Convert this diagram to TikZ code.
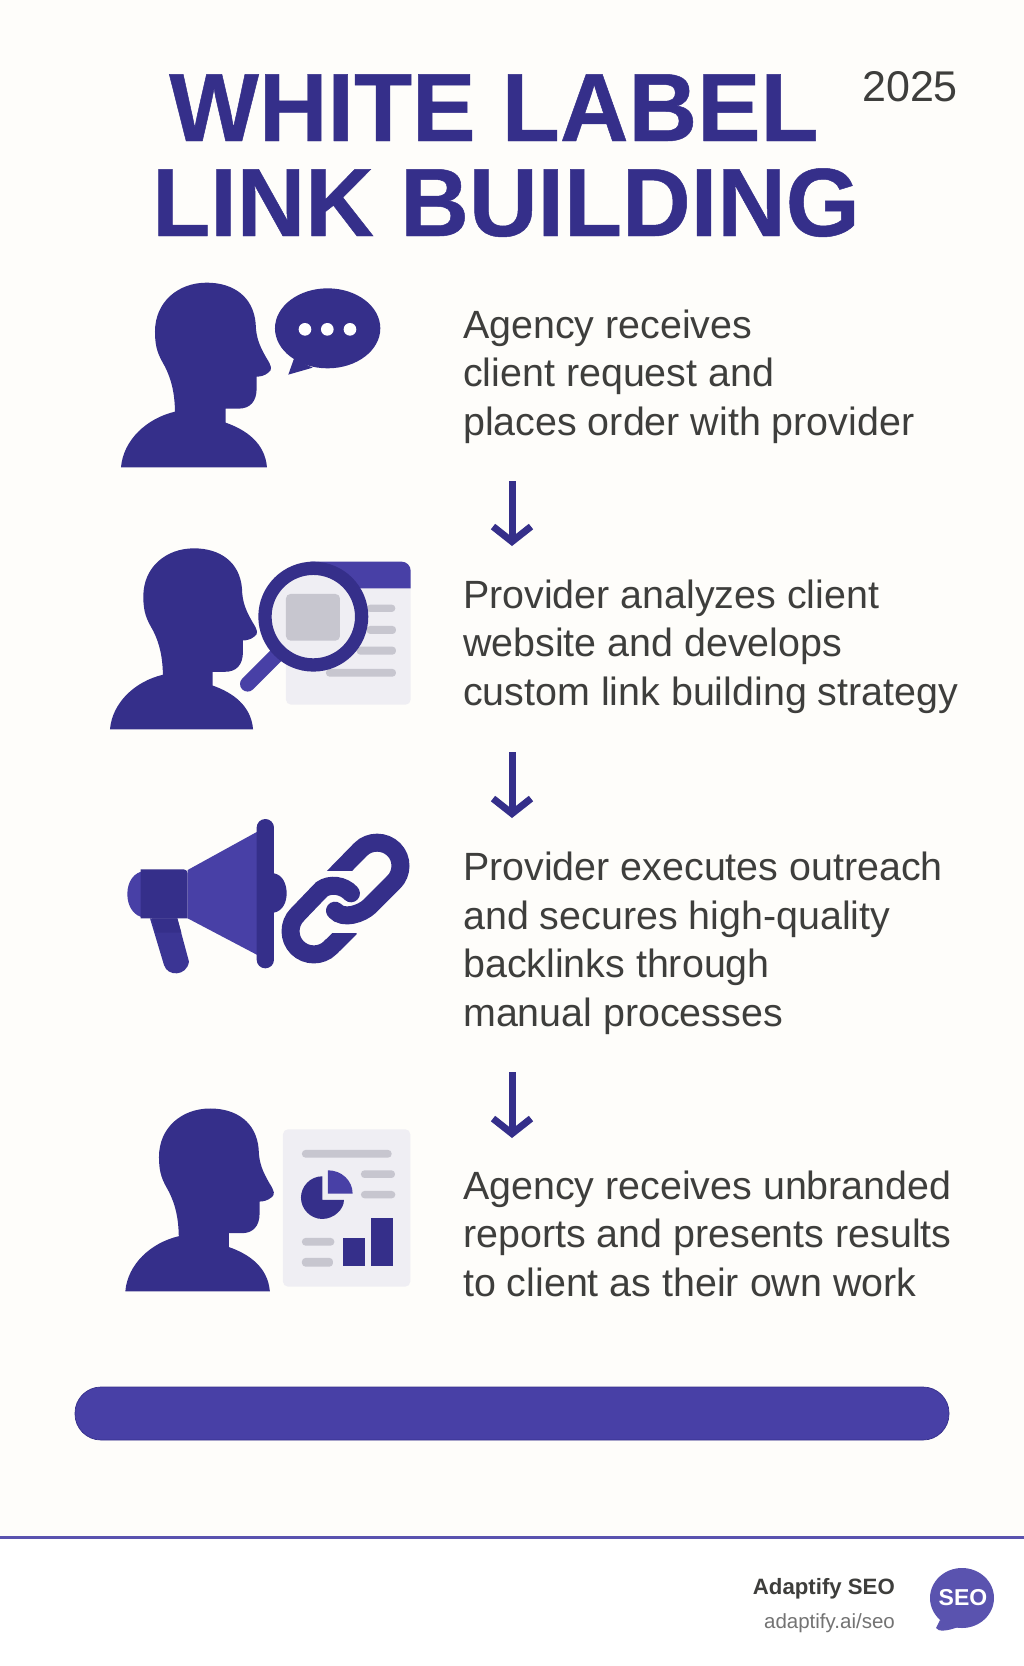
\documentclass[tikz,border=0pt]{standalone}
\usepackage{fontspec}
\setmainfont{Liberation Sans}
\newfontfamily\titlefont[FakeStretch=.98,FakeBold=.5]{Liberation Sans}
\usetikzlibrary{positioning}
\usetikzlibrary{calc}
\usetikzlibrary{arrows.meta}
\definecolor{navy}{HTML}{352F8A}
\definecolor{violet}{HTML}{4840A6}
\definecolor{handleblue}{HTML}{3B3594}
\definecolor{paper}{HTML}{FEFDFA}
\definecolor{sheet}{HTML}{EFEEF3}
\definecolor{bargrey}{HTML}{C7C6CF}
\definecolor{inktext}{HTML}{3E3E3C}
\tikzset{
  titletext/.style={anchor=base west, inner sep=0, text=navy, font=\titlefont\bfseries\fontsize{97}{97}\selectfont},
  steptext/.style={anchor=base west, inner sep=0, align=left, text=inktext, font=\fontsize{39.4}{48.5}\selectfont},
  downarrow/.style={draw=navy, line width=7pt, -{Straight Barb[length=15pt,width=38pt,line width=7pt]}},
  greybar/.style={fill=bargrey, rounded corners=3.5pt},
  linkline/.style={draw=navy, line width=18pt, line cap=round},
}
% the head and shoulders, drawn from its bottom left corner
\newcommand{\personicon}[3]{%
  \begin{scope}[shift={(#1,#2)},scale=#3]
    \fill[navy] (0,0) .. controls (7,-82) and (77,-147) .. (162,-167)
      .. controls (161,-222) and (152,-262) .. (132,-302)
      .. controls (112,-337) and (102,-357) .. (102,-407)
      .. controls (102,-497) and (172,-554) .. (257,-554)
      .. controls (337,-554) and (397,-512) .. (404,-432)
      .. controls (405,-387) and (417,-362) .. (437,-327)
      .. controls (452,-304) and (455,-292) .. (442,-284)
      .. controls (432,-275) and (417,-272) .. (407,-272)
      -- (407,-237)
      .. controls (407,-197) and (387,-176) .. (352,-176)
      -- (314,-176) -- (314,-134)
      .. controls (377,-112) and (432,-72) .. (438,0) -- cycle;
  \end{scope}}
\begin{document}
\begin{tikzpicture}[x=1pt,y=-1pt]
    \useasboundingbox (0,0) rectangle (1024,1666);

    % Background
    \fill[paper] (0,0) rectangle (1024,1537);
    \fill[white] (0,1537) rectangle (1024,1666);
    \draw[violet!90!white, line width=3pt] (0,1537) -- (1024,1537);

    % Title
    \node[titletext] (title1) at (169,141) {WHITE LABEL};
    \node[titletext] (title2) at (152,236) {LINK BUILDING};
    \node[anchor=base west, inner sep=0, text=inktext, font=\fontsize{43}{43}\selectfont] (year) at (862,101) {2025};

    % Steps
    \node[steptext] (step1) at (463,435) {Agency receives\\client request and\\places order with provider};
    \node[steptext] (step2) at (463,705) {Provider analyzes client\\website and develops\\custom link building strategy};
    \node[steptext] (step3) at (463,1026) {Provider executes outreach\\and secures high-quality\\backlinks through\\manual processes};
    \node[steptext] (step4) at (463,1296) {Agency receives unbranded\\reports and presents results\\to client as their own work};

    % Arrows
    \coordinate (a1) at (512,481);
    \coordinate (b1) at (512,546);
    \coordinate (a2) at (512,752);
    \coordinate (b2) at (512,818);
    \coordinate (a3) at (512,1072);
    \coordinate (b3) at (512,1138);
    \draw[downarrow] (a1) -- (b1);
    \draw[downarrow] (a2) -- (b2);
    \draw[downarrow] (a3) -- (b3);

    % Icons of steps 1 and 2
    \begin{scope}[shift={(90,260)},scale=.3333]
      \personicon{93}{622}{1}
      \fill[navy] (713,205) ellipse [x radius=158, y radius=120];
      \fill[navy] (612,296) -- (595,344) -- (668,323) -- cycle;
      \fill[white] (645,208) circle [radius=19];
      \fill[white] (712,208) circle [radius=19];
      \fill[white] (780,208) circle [radius=19];

      \personicon{60}{1408}{.98}
      \fill[sheet, rounded corners=5pt] (588,960) rectangle (962,1334);
      \fill[violet] (660,905) [rounded corners=9pt] -- (962,905) [sharp corners] -- (962,985) -- (660,985) -- cycle;
      \fill[bargrey, rounded corners=3.5pt] (830,1034) rectangle (916,1056);
      \fill[bargrey, rounded corners=3.5pt] (830,1098) rectangle (918,1122);
      \fill[bargrey, rounded corners=3.5pt] (800,1160) rectangle (918,1184);
      \fill[bargrey, rounded corners=3.5pt] (708,1227) rectangle (918,1250);
      \draw[violet, line width=15.3pt, line cap=round] (473,1272) -- (570,1175);
      \fill[sheet] (670,1070) circle [radius=145];
      \draw[navy, line width=13.3pt] (670,1070) circle [radius=145];
      \fill[bargrey, rounded corners=4.5pt] (588,1002) rectangle (750,1142);
    \end{scope}

    % Icons of steps 3 and 4
    \begin{scope}[shift={(90,790)},scale=.3333]
      % megaphone
      \fill[violet] (165,243) .. controls (132,245) and (112,275) .. (112,312) .. controls (112,350) and (132,380) .. (165,383) -- cycle;
      \fill[handleblue] (180,385) -- (222,525) .. controls (232,560) and (290,560) .. (297,515) -- (262,385) -- cycle;
      \fill[navy] (186,385) -- (262,385) -- (274,428) -- (198,428) -- cycle;
      \fill[navy, rounded corners=4pt] (152,238) -- (293,238) [sharp corners] -- (293,385) -- (152,385) -- cycle;
      \fill[violet] (293,240) -- (502,125) -- (502,495) -- (293,385) -- cycle;
      \fill[navy, rounded corners=8.6pt] (500,87) rectangle (552,535);
      \fill[navy] (552,250) .. controls (580,255) and (590,285) .. (590,310) .. controls (590,335) and (580,362) .. (552,368) -- cycle;

      % chain link, the cut ends are clipped off flat
      \begin{scope}
        \clip (690,100) rectangle (1000,240);
        \draw[linkline, line cap=butt] (720,272) -- (812,178);
      \end{scope}
      \draw[linkline, line cap=butt] (805,185) -- (812,178) .. controls (839,151) and (884.5,151.5) .. (911.5,178.5)
        .. controls (938.5,205.5) and (938,250) .. (911,277);
      \draw[linkline] (911,277) -- (840,348) .. controls (815,372) and (760,390) .. (735,362);
      \begin{scope}
        \clip (560,431) rectangle (800,540);
        \draw[linkline, line cap=butt] (790,405) -- (721,473);
      \end{scope}
      \draw[linkline, line cap=butt] (727,467) -- (721,473) .. controls (694,500) and (649,500) .. (622,473)
        .. controls (595,446) and (595,401) .. (622,374);
      \draw[linkline] (622,374) -- (695,298) .. controls (720,280) and (760,285) .. (783,310);

      \personicon{106}{1504}{.99}
      \fill[sheet, rounded corners=5pt] (579,1018) rectangle (961,1490);
      \fill[bargrey, rounded corners=3.5pt] (636,1080) rectangle (905,1103);
      \fill[bargrey, rounded corners=3.5pt] (813,1141) rectangle (915,1164);
      \fill[bargrey, rounded corners=3.5pt] (813,1203) rectangle (916,1225);
      \fill[bargrey, rounded corners=3.5pt] (636,1344) rectangle (733,1367);
      \fill[bargrey, rounded corners=3.5pt] (636,1404) rectangle (729,1430);
      \fill[navy] (697,1159) .. controls (660,1159) and (633,1190) .. (633,1223)
        .. controls (633,1258) and (662,1287) .. (697,1287)
        .. controls (732,1287) and (762,1258) .. (762,1230) -- (697,1230) -- cycle;
      \fill[violet] (714,1141) .. controls (755,1141) and (788,1172) .. (788,1211) -- (714,1211) -- cycle;
      \fill[navy] (760,1345) rectangle (824,1427);
      \fill[navy] (844,1284) rectangle (908,1427);
    \end{scope}

    % Bar
    \path[fill=violet, draw=navy, line width=.7pt, rounded corners=26pt] (75,1387) rectangle (949,1440);

    % Footer
    \node[anchor=base east, inner sep=0, text=inktext, font=\bfseries\fontsize{22.2}{22.2}\selectfont] (brand) at (895,1594) {Adaptify SEO};
    \node[anchor=base east, inner sep=0, text=black!55, font=\fontsize{20.5}{20.5}\selectfont] (site) at (895,1628) {adaptify.ai/seo};
    \fill[violet!90!white] (962,1598) ellipse [x radius=32, y radius=30];
    \fill[violet!90!white] (940,1620) -- (936,1628) .. controls (938,1632) and (948,1631) .. (958,1627) -- cycle;
    \node[inner sep=0, text=white, font=\bfseries\fontsize{23}{23}\selectfont] (seo) at (963,1598) {SEO};

\end{tikzpicture}
\end{document}
